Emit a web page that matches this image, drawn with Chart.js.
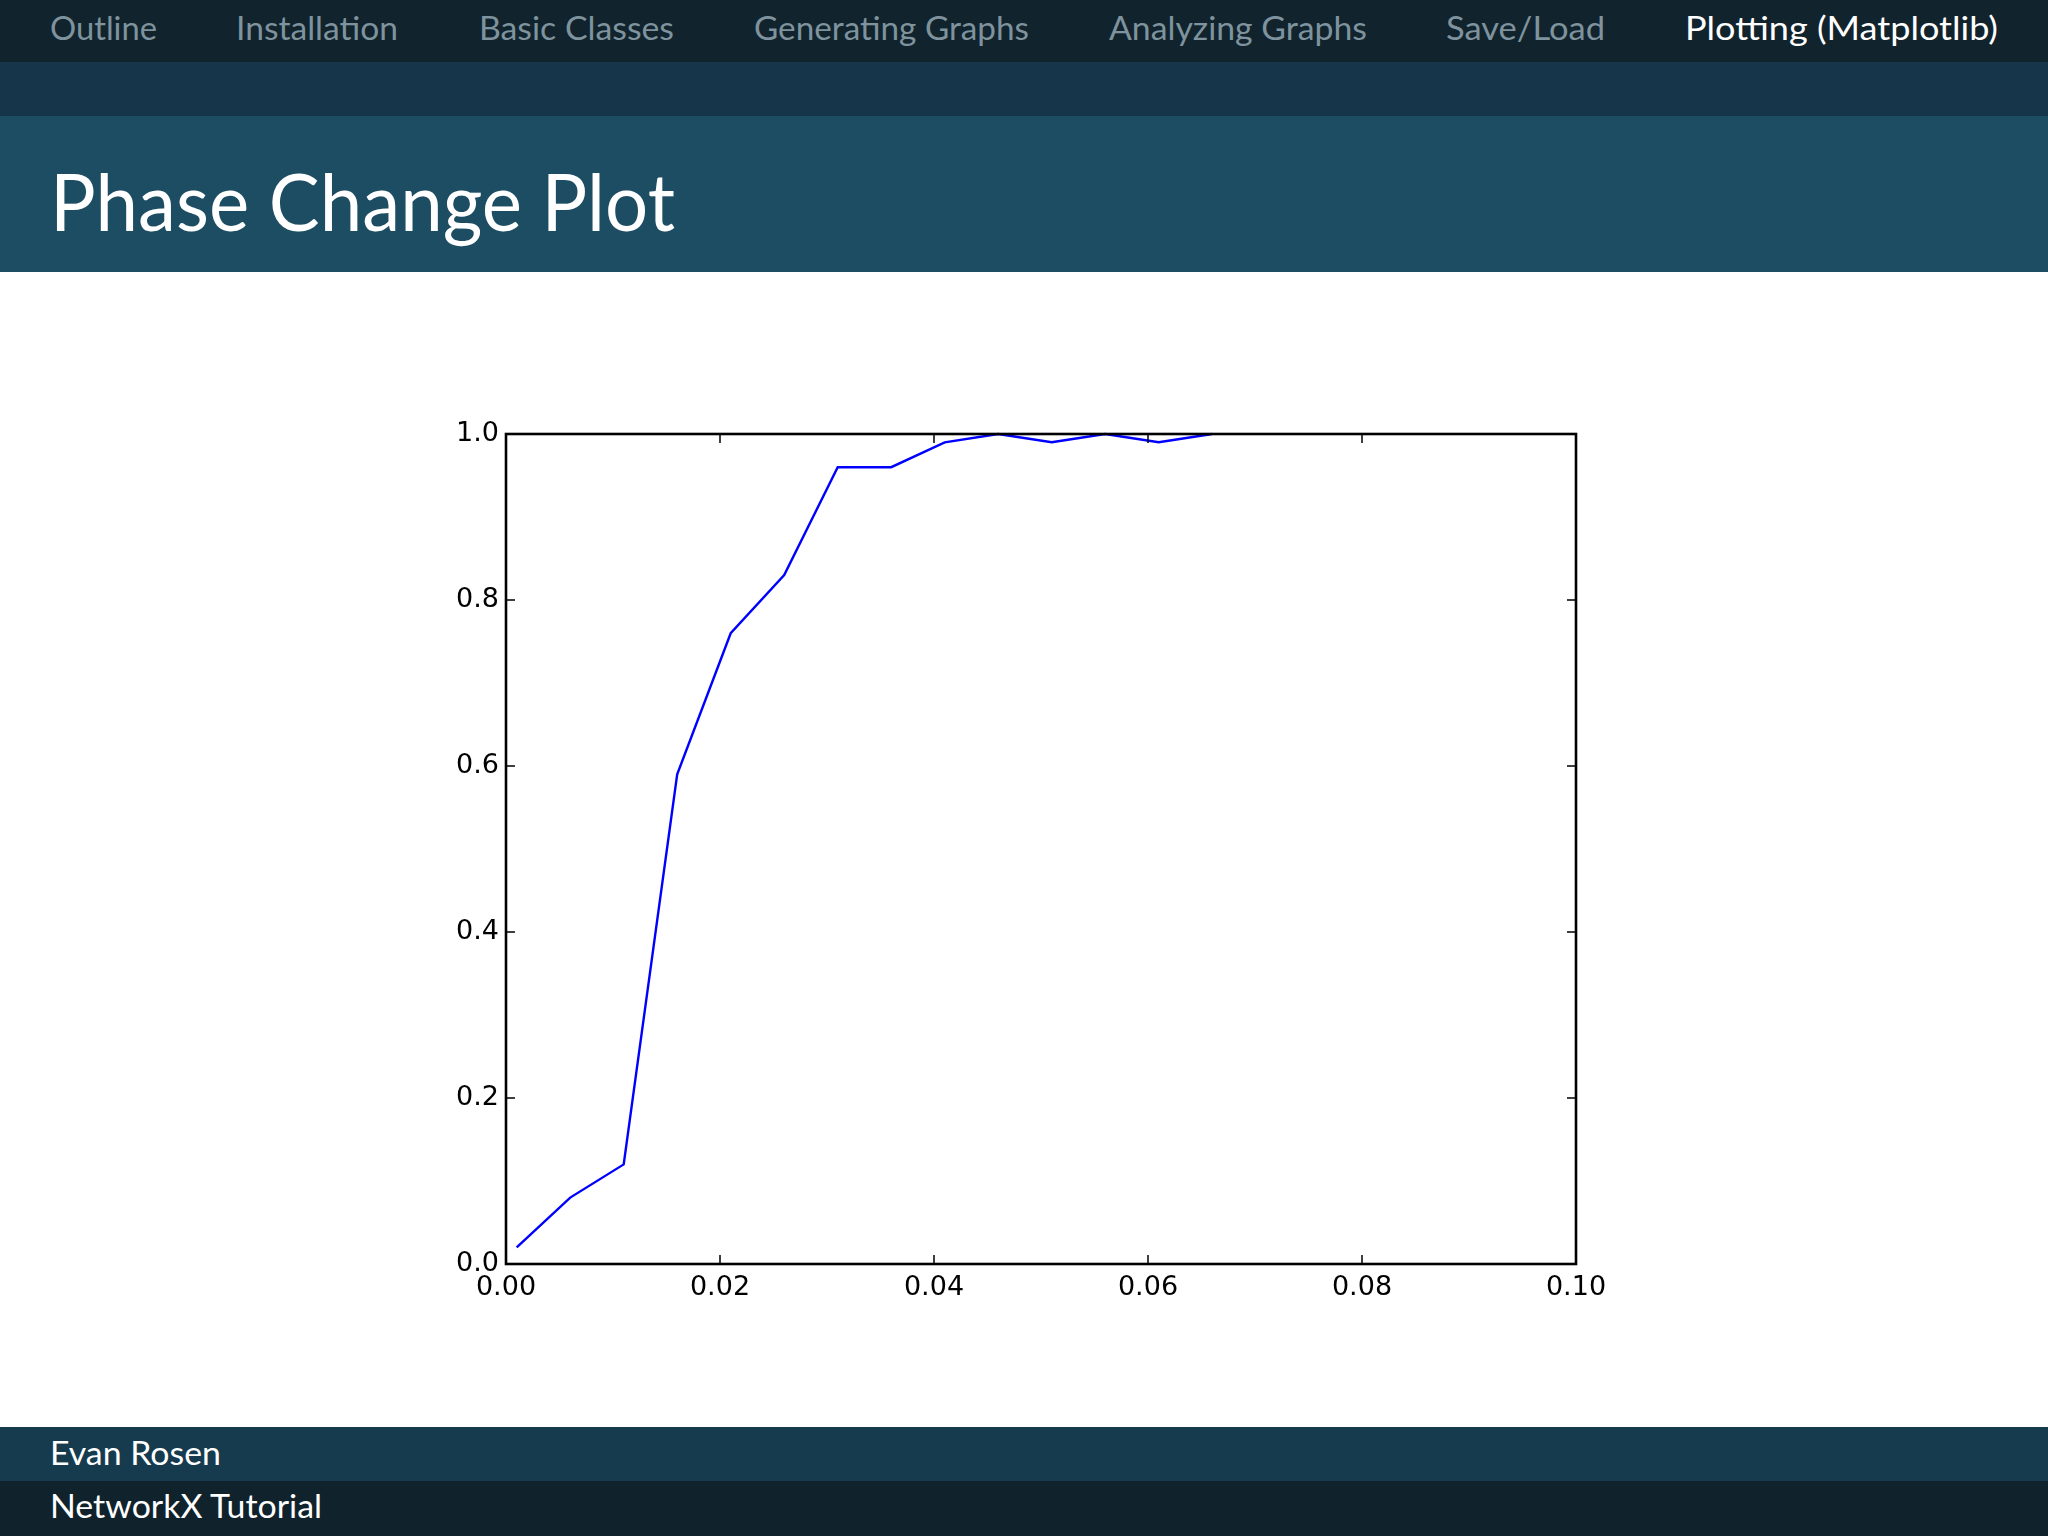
<!DOCTYPE html>
<html>
<head>
<meta charset="utf-8">
<script src="https://cdn.jsdelivr.net/npm/chart.js@4.4.1/dist/chart.umd.min.js"></script>
<style>
  html, body { margin: 0; padding: 0; background: #ffffff; }
  body { width: 2048px; height: 1536px; position: relative; overflow: hidden; font-family: Lato, "Noto Sans", sans-serif; }
  .band { position: absolute; left: 0; width: 2048px; }
  .txt { position: absolute; white-space: nowrap; line-height: 1; transform-origin: 0 0; }
  .mk { display: inline-block; width: 0; height: 0; vertical-align: baseline; }
  #chartBox { position: absolute; left: 400px; top: 380px; width: 1260px; height: 960px; }
</style>
</head>
<body>
<div class="band" style="top:0;height:62px;background:#11232d;"></div>
<div class="band" style="top:62px;height:54px;background:#17354a;"></div>
<div class="band" style="top:116px;height:156px;background:#1c4d63;"></div>
<div class="band" style="top:1427px;height:54px;background:#163a4e;"></div>
<div class="band" style="top:1481px;height:55px;background:#10232d;"></div>

<div id="texts"></div>
<div id="chartBox"><canvas id="c"></canvas></div>

<script>
// ---- data ----
const navItems = ["Outline", "Installation", "Basic Classes", "Generating Graphs", "Analyzing Graphs", "Save/Load", "Plotting (Matplotlib)"];
const slideTitle = "Phase Change Plot";
const footerAuthor = "Evan Rosen";
const footerTitle = "NetworkX Tutorial";

const xValues = [0.001, 0.006, 0.011, 0.016, 0.021, 0.026, 0.031, 0.036, 0.041, 0.046, 0.051, 0.056, 0.061, 0.066];
const yValues = [0.02, 0.08, 0.12, 0.59, 0.76, 0.83, 0.96, 0.96, 0.99, 1.00, 0.99, 1.00, 0.99, 1.00];
const xTicks = [0.00, 0.02, 0.04, 0.06, 0.08, 0.10];
const yTicks = [0.0, 0.2, 0.4, 0.6, 0.8, 1.0];

// ---- slide text layout ----
const navBoxes = [[50,107],[236,162],[479,195],[754,275],[1109,258],[1446,159],[1685,313]];
const textSpecs = [];
navItems.forEach((t, i) => textSpecs.push({t, x: navBoxes[i][0], w: navBoxes[i][1], b: 40, fs: 33, c: i === navItems.length - 1 ? '#ffffff' : '#7e939d'}));
textSpecs.push({t: slideTitle, x: 50, w: 625, b: 231, fs: 79, c: '#ffffff'});
textSpecs.push({t: footerAuthor, x: 50, w: 171, b: 1465, fs: 32, c: '#ffffff'});
textSpecs.push({t: footerTitle, x: 50, w: 272, b: 1518, fs: 32, c: '#ffffff'});

const holder = document.getElementById('texts');
textSpecs.forEach(s => {
  const d = document.createElement('div');
  d.className = 'txt';
  d.style.fontSize = s.fs + 'px';
  d.style.color = s.c;
  d.style.left = s.x + 'px';
  d.style.top = '0px';
  const sp = document.createElement('span');
  sp.textContent = s.t;
  const mk = document.createElement('span');
  mk.className = 'mk';
  d.appendChild(sp); d.appendChild(mk);
  holder.appendChild(d);
  const w = sp.getBoundingClientRect().width;
  const base = mk.getBoundingClientRect().top;
  d.style.top = (s.b - base) + 'px';
  d.style.transform = 'scaleX(' + (s.w / w) + ')';
});

// ---- chart ----
const frame = {
  id: 'frame',
  afterDatasetsDraw(chart) {
    const {ctx, chartArea: a, scales} = chart;
    ctx.save();
    ctx.strokeStyle = '#000';
    ctx.lineWidth = 1.5;
    ctx.beginPath();
    const tl = 9;
    yTicks.forEach(v => {
      const y = scales.y.getPixelForValue(v);
      ctx.moveTo(a.left, y); ctx.lineTo(a.left + tl, y);
      ctx.moveTo(a.right, y); ctx.lineTo(a.right - tl, y);
    });
    xTicks.forEach(v => {
      const x = scales.x.getPixelForValue(v);
      ctx.moveTo(x, a.bottom); ctx.lineTo(x, a.bottom - tl);
      ctx.moveTo(x, a.top); ctx.lineTo(x, a.top + tl);
    });
    ctx.stroke();
    ctx.lineWidth = 2.6;
    ctx.strokeRect(a.left, a.top, a.right - a.left, a.bottom - a.top);
    ctx.restore();
  }
};

new Chart(document.getElementById('c'), {
  type: 'line',
  data: {
    datasets: [{
      data: xValues.map((x, i) => ({x, y: yValues[i]})),
      borderColor: '#0000ff',
      borderWidth: 2.4,
      pointRadius: 0,
      tension: 0,
      fill: false,
      clip: 4
    }]
  },
  options: {
    responsive: true,
    maintainAspectRatio: false,
    animation: false,
    layout: { padding: { left: 46, top: 54, right: 84, bottom: 26 } },
    plugins: { legend: { display: false }, tooltip: { enabled: false } },
    scales: {
      x: {
        type: 'linear', min: 0, max: 0.1,
        afterBuildTicks: s => { s.ticks = xTicks.map(v => ({value: v})); },
        afterFit: s => { s.height = 50; },
        grid: { display: false, drawTicks: false },
        border: { display: false },
        ticks: { color: '#000', padding: 8, font: { family: 'DejaVu Sans', size: 27 }, maxRotation: 0, autoSkip: false,
                 callback: v => Number(v).toFixed(2) }
      },
      y: {
        type: 'linear', min: 0, max: 1,
        afterBuildTicks: s => { s.ticks = yTicks.map(v => ({value: v})); },
        afterFit: s => { s.width = 60; },
        grid: { display: false, drawTicks: false },
        border: { display: false },
        ticks: { color: '#000', padding: 7, font: { family: 'DejaVu Sans', size: 27 }, autoSkip: false,
                 callback: v => Number(v).toFixed(1) }
      }
    }
  },
  plugins: [frame]
});
</script>
</body>
</html>
